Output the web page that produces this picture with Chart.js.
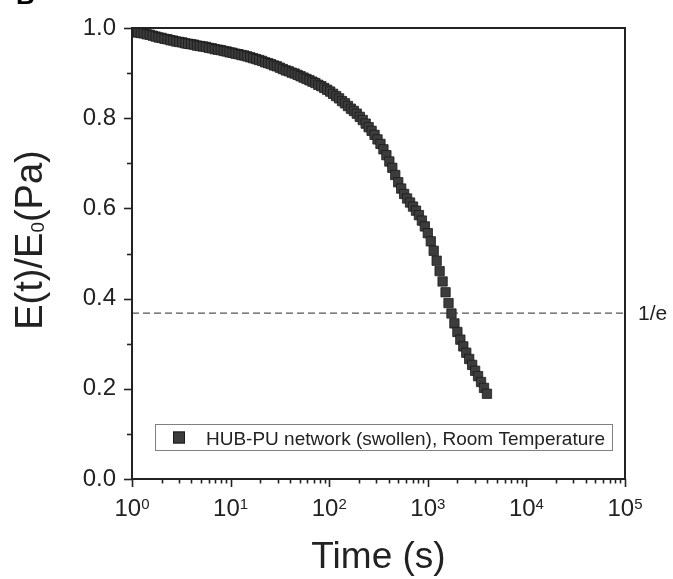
<!DOCTYPE html>
<html>
<head>
<meta charset="utf-8">
<script src="https://cdn.jsdelivr.net/npm/chart.js@4.4.1/dist/chart.umd.min.js"></script>
<style>
  html, body { margin: 0; padding: 0; background: #fff; }
  #wrap { width: 673px; height: 579px; position: relative; }
</style>
</head>
<body>
<div id="wrap"><canvas id="c" width="673" height="579"></canvas></div>
<script>
// Stress relaxation of the swollen HUB-PU network at room temperature
const timeSeconds = [
  1.000, 1.072, 1.148, 1.230, 1.318, 1.413, 1.514, 1.622, 1.738, 1.862,
  1.995, 2.138, 2.291, 2.455, 2.630, 2.818, 3.020, 3.236, 3.467, 3.715,
  3.981, 4.266, 4.571, 4.898, 5.248, 5.623, 6.026, 6.457, 6.918, 7.413,
  7.943, 8.511, 9.120, 9.772, 10.47, 11.22, 12.02, 12.88, 13.80, 14.79,
  15.85, 16.98, 18.20, 19.50, 20.89, 22.39, 23.99, 25.70, 27.54, 29.51,
  31.62, 33.88, 36.31, 38.90, 41.69, 44.67, 47.86, 51.29, 54.95, 58.88,
  63.10, 67.61, 72.44, 77.62, 83.18, 89.13, 95.50, 102.3, 109.6, 117.5,
  125.9, 134.9, 144.5, 154.9, 166.0, 177.8, 190.5, 204.2, 218.8, 234.4,
  251.2, 269.2, 288.4, 309.0, 331.1, 354.8, 380.2, 407.4, 436.5, 467.7,
  501.2, 537.0, 575.4, 616.6, 660.7, 707.9, 758.6, 812.8, 871.0, 933.3,
  1000, 1072, 1148, 1230, 1318, 1413, 1514, 1622, 1738, 1862,
  1995, 2138, 2291, 2455, 2630, 2818, 3020, 3236, 3467, 3715,
  3981
];
const modulusRatio = [
  0.992, 0.991, 0.990, 0.989, 0.988, 0.986, 0.985, 0.983, 0.981, 0.979,
  0.978, 0.976, 0.975, 0.973, 0.972, 0.970, 0.969, 0.968, 0.966, 0.965,
  0.964, 0.963, 0.961, 0.960, 0.959, 0.958, 0.956, 0.955, 0.953, 0.952,
  0.951, 0.949, 0.948, 0.946, 0.945, 0.943, 0.942, 0.940, 0.939, 0.937,
  0.935, 0.933, 0.931, 0.929, 0.927, 0.924, 0.922, 0.920, 0.917, 0.915,
  0.912, 0.909, 0.906, 0.904, 0.901, 0.899, 0.896, 0.893, 0.890, 0.887,
  0.884, 0.881, 0.878, 0.874, 0.871, 0.867, 0.863, 0.859, 0.854, 0.849,
  0.844, 0.838, 0.833, 0.827, 0.821, 0.816, 0.810, 0.803, 0.796, 0.788,
  0.780, 0.772, 0.763, 0.753, 0.743, 0.731, 0.718, 0.704, 0.690, 0.674,
  0.658, 0.644, 0.632, 0.622, 0.613, 0.604, 0.595, 0.585, 0.573, 0.560,
  0.545, 0.527, 0.506, 0.484, 0.461, 0.438, 0.414, 0.390, 0.367, 0.345,
  0.326, 0.309, 0.294, 0.280, 0.266, 0.253, 0.240, 0.228, 0.215, 0.202,
  0.189
];
const seriesLabel = 'HUB-PU network (swollen), Room Temperature';
const xDecadeExponents = [0, 1, 2, 3, 4, 5];
const xMinorMultipliers = [2, 3, 4, 5, 6, 7, 8, 9];
const yTickLabels = ['0.0', '0.2', '0.4', '0.6', '0.8', '1.0'];
const referenceLevel = 1 / Math.E;
const referenceLabel = '1/e';
const xTitle = 'Time (s)';
const yTitleParts = ['E(t)/E', '0', '(Pa)'];
const panelLetter = 'B';

const FONT = '"Liberation Sans", Arial, Helvetica, sans-serif';
const INK = '#222';
const MARK_FILL = '#3c3c3c';
const MARK_EDGE = '#1a1a1a';

const points = timeSeconds.map((t, i) => ({ x: t, y: modulusRatio[i] }));

// x tick positions: decades plus 2..9 multiples inside each decade
const xTickValues = [];
xDecadeExponents.forEach(e => {
  xTickValues.push({ value: Math.pow(10, e), major: true });
  if (e < xDecadeExponents[xDecadeExponents.length - 1]) {
    xMinorMultipliers.forEach(m => xTickValues.push({ value: m * Math.pow(10, e), major: false }));
  }
});

const referenceLinePlugin = {
  id: 'referenceLine',
  beforeDatasetsDraw(chart) {
    const { ctx, chartArea: a, scales: { y } } = chart;
    const py = y.getPixelForValue(referenceLevel);
    ctx.save();
    ctx.strokeStyle = '#555';
    ctx.lineWidth = 1.4;
    ctx.setLineDash([7, 4]);
    ctx.beginPath();
    ctx.moveTo(a.left, py);
    ctx.lineTo(a.right, py);
    ctx.stroke();
    ctx.restore();
  }
};

const frameAndLabelsPlugin = {
  id: 'frameAndLabels',
  afterDraw(chart) {
    const { ctx, chartArea: a, scales: { x, y } } = chart;
    ctx.save();

    // frame
    ctx.strokeStyle = INK;
    ctx.lineWidth = 2;
    ctx.strokeRect(a.left, a.top, a.right - a.left, a.bottom - a.top);

    // y tick marks, pointing outward
    ctx.lineWidth = 1.6;
    y.ticks.forEach(t => {
      const py = Math.round(y.getPixelForValue(t.value)) + 0.5;
      const major = Math.round(t.value * 10) % 2 === 0;
      const len = major ? 8 : 5;
      ctx.beginPath();
      ctx.moveTo(a.left - len, py);
      ctx.lineTo(a.left, py);
      ctx.stroke();
    });

    // x tick marks, pointing outward
    xTickValues.forEach(t => {
      const px = Math.round(x.getPixelForValue(t.value)) + 0.5;
      const len = t.major ? 8 : 4.5;
      ctx.beginPath();
      ctx.moveTo(px, a.bottom);
      ctx.lineTo(px, a.bottom + len);
      ctx.stroke();
    });

    // x tick labels 10^n
    ctx.fillStyle = INK;
    ctx.textBaseline = 'alphabetic';
    ctx.textAlign = 'left';
    xDecadeExponents.forEach(e => {
      const px = x.getPixelForValue(Math.pow(10, e));
      ctx.font = `24px ${FONT}`;
      const wBase = ctx.measureText('10').width;
      ctx.font = `15px ${FONT}`;
      const wExp = ctx.measureText(String(e)).width;
      const start = px - (wBase + wExp) / 2;
      ctx.font = `24px ${FONT}`;
      ctx.fillText('10', start, 516);
      ctx.font = `15px ${FONT}`;
      ctx.fillText(String(e), start + wBase, 508.5);
    });

    // x title
    ctx.font = `37px ${FONT}`;
    ctx.textAlign = 'center';
    ctx.fillText(xTitle, (a.left + a.right) / 2, 568);

    // y title with subscript
    ctx.save();
    ctx.translate(42, 240);
    ctx.rotate(-Math.PI / 2);
    ctx.textAlign = 'left';
    const mainFont = `38px ${FONT}`;
    const subFont = `19px ${FONT}`;
    ctx.font = mainFont;
    const w0 = ctx.measureText(yTitleParts[0]).width;
    const w2 = ctx.measureText(yTitleParts[2]).width;
    ctx.font = subFont;
    const w1 = ctx.measureText(yTitleParts[1]).width;
    let cx = -(w0 + w1 + w2) / 2;
    ctx.font = mainFont;
    ctx.fillText(yTitleParts[0], cx, 0);
    cx += w0;
    ctx.font = subFont;
    ctx.fillText(yTitleParts[1], cx, 2);
    cx += w1;
    ctx.font = mainFont;
    ctx.fillText(yTitleParts[2], cx, 0);
    ctx.restore();

    // reference level label
    ctx.font = `21px ${FONT}`;
    ctx.textAlign = 'left';
    ctx.textBaseline = 'middle';
    ctx.fillText(referenceLabel, 638, y.getPixelForValue(referenceLevel) + 1.5);

    // legend box
    const ds = chart.data.datasets[0];
    ctx.fillStyle = '#fff';
    ctx.fillRect(155, 424, 458, 27);
    ctx.strokeStyle = '#808080';
    ctx.lineWidth = 1;
    ctx.strokeRect(155.5, 424.5, 457, 26);
    ctx.fillStyle = ds.backgroundColor;
    ctx.strokeStyle = ds.borderColor;
    ctx.fillRect(173, 431.5, 12, 12);
    ctx.strokeRect(173.5, 432, 11, 11);
    ctx.fillStyle = INK;
    ctx.font = `19px ${FONT}`;
    ctx.textBaseline = 'alphabetic';
    ctx.fillText(ds.label, 206, 444.5);

    // panel letter at the top-left edge
    ctx.font = `bold 26px ${FONT}`;
    ctx.fillStyle = '#000';
    ctx.fillText(panelLetter, 16, 4);

    ctx.restore();
  }
};

new Chart(document.getElementById('c'), {
  type: 'scatter',
  data: {
    datasets: [{
      label: seriesLabel,
      data: points,
      showLine: false,
      pointStyle: 'rect',
      pointRadius: 6.6,
      pointHoverRadius: 6.6,
      backgroundColor: MARK_FILL,
      borderColor: MARK_EDGE,
      pointBorderWidth: 0.8,
      clip: 0
    }]
  },
  options: {
    responsive: false,
    animation: false,
    devicePixelRatio: 1,
    events: [],
    layout: { padding: { top: 28, right: 48, left: 0, bottom: 0 } },
    plugins: {
      legend: { display: false },
      tooltip: { enabled: false },
      title: { display: false }
    },
    scales: {
      x: {
        type: 'logarithmic',
        min: 1,
        max: 100000,
        afterBuildTicks(scale) { scale.ticks = xTickValues.map(t => ({ value: t.value })); },
        afterFit(scale) { scale.height = 100; },
        ticks: { autoSkip: false, callback: () => '', padding: 0 },
        grid: { display: true, drawOnChartArea: false, drawTicks: true, tickLength: 8, color: 'rgba(0,0,0,0)' },
        border: { display: false }
      },
      y: {
        min: 0,
        max: 1,
        afterFit(scale) { scale.width = 132; },
        ticks: {
          stepSize: 0.1,
          autoSkip: false,
          padding: 8,
          color: INK,
          font: { family: FONT, size: 24 },
          callback: (v) => {
            const k = Math.round(v * 10);
            return k % 2 === 0 ? yTickLabels[k / 2] : '';
          }
        },
        grid: { display: true, drawOnChartArea: false, drawTicks: true, tickLength: 8, color: 'rgba(0,0,0,0)' },
        border: { display: false }
      }
    }
  },
  plugins: [referenceLinePlugin, frameAndLabelsPlugin]
});
</script>
</body>
</html>
